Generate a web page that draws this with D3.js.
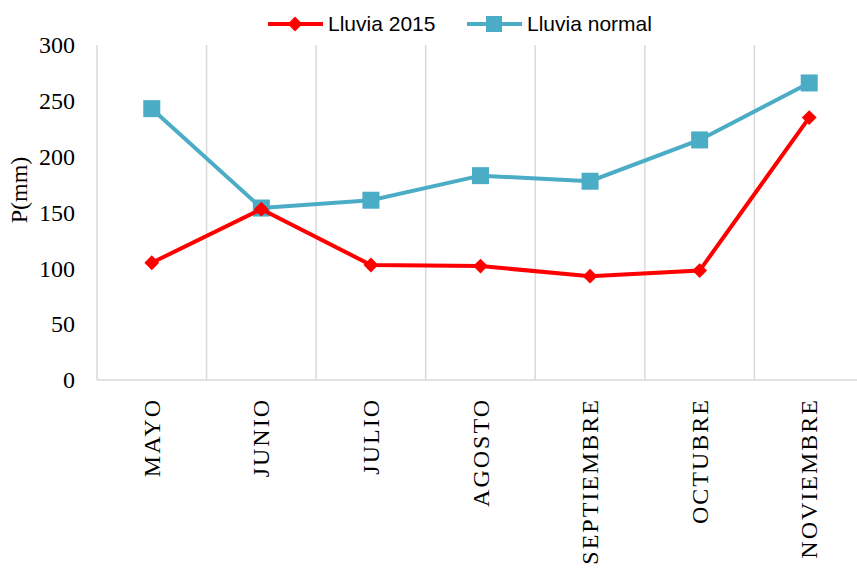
<!DOCTYPE html>
<html>
<head>
<meta charset="utf-8">
<script src="https://cdn.jsdelivr.net/npm/d3@7"></script>
<style>
body { margin: 0; background: #fff; }
svg { display: block; }
</style>
</head>
<body>
<div id="chart"></div>
<script>
// datos
var meses = ["MAYO", "JUNIO", "JULIO", "AGOSTO", "SEPTIEMBRE", "OCTUBRE", "NOVIEMBRE"];
var lluvia2015 = [105, 153, 103, 102, 93, 98, 235];
var lluviaNormal = [243, 154, 161, 183, 178, 215, 266];
var yTicks = [0, 50, 100, 150, 200, 250, 300];

var W = 857, H = 569;
var mIzq = 97, mDer = 864, mSup = 45, mInf = 380;

var svg = d3.select("#chart").append("svg")
    .attr("width", W)
    .attr("height", H);

var x = d3.scaleBand().domain(meses).range([mIzq, mDer]);
var y = d3.scaleLinear().domain([0, 300]).range([mInf, mSup]);

// lineas verticales entre categorias
var bordes = meses.map(function(m) { return x(m); });
svg.selectAll(".grid").data(bordes).enter().append("line")
    .attr("x1", function(d) { return d; })
    .attr("x2", function(d) { return d; })
    .attr("y1", y(300))
    .attr("y2", y(0))
    .attr("stroke", "#d9d9d9")
    .attr("stroke-width", 1.5);

// eje x
svg.append("line")
    .attr("x1", mIzq).attr("x2", mDer)
    .attr("y1", y(0)).attr("y2", y(0))
    .attr("stroke", "#d9d9d9")
    .attr("stroke-width", 1.5);

// eje y (solo etiquetas)
var yAxis = svg.append("g")
    .attr("transform", "translate(" + (mIzq - 22) + ",0)")
    .call(d3.axisLeft(y).tickValues(yTicks).tickSize(0).tickPadding(0));
yAxis.select(".domain").remove();
yAxis.selectAll("text")
    .attr("font-family", "Liberation Serif, serif")
    .attr("font-size", 24)
    .attr("fill", "#000")
    .attr("dy", "0.32em");

svg.append("text")
    .attr("transform", "translate(27,190) rotate(-90)")
    .attr("text-anchor", "middle")
    .attr("font-family", "Liberation Serif, serif")
    .attr("font-size", 24)
    .text("P(mm)");

// etiquetas de meses
svg.selectAll(".mes").data(meses).enter().append("text")
    .attr("transform", function(d) {
        return "translate(" + (x(d) + x.bandwidth() / 2 + 8) + ",398) rotate(-90)";
    })
    .attr("text-anchor", "end")
    .attr("font-family", "Liberation Serif, serif")
    .attr("font-size", 24)
    .attr("letter-spacing", 2)
    .text(function(d) { return d; });

var cx = function(d, i) { return x(meses[i]) + x.bandwidth() / 2; };

var linea = d3.line()
    .x(function(d, i) { return cx(d, i); })
    .y(function(d) { return y(d); });

// Lluvia normal
svg.append("path")
    .datum(lluviaNormal)
    .attr("d", linea)
    .attr("fill", "none")
    .attr("stroke", "#4BACC6")
    .attr("stroke-width", 4);
svg.selectAll(".sq").data(lluviaNormal).enter().append("rect")
    .attr("x", function(d, i) { return cx(d, i) - 8.5; })
    .attr("y", function(d) { return y(d) - 8.5; })
    .attr("width", 17)
    .attr("height", 17)
    .attr("fill", "#4BACC6");

// Lluvia 2015
svg.append("path")
    .datum(lluvia2015)
    .attr("d", linea)
    .attr("fill", "none")
    .attr("stroke", "#FF0000")
    .attr("stroke-width", 4);
var diamante = d3.symbol().type(d3.symbolSquare).size(110);
svg.selectAll(".dm").data(lluvia2015).enter().append("path")
    .attr("d", diamante)
    .attr("transform", function(d, i) {
        return "translate(" + cx(d, i) + "," + y(d) + ") rotate(45)";
    })
    .attr("fill", "#FF0000");

// leyenda
var ley = svg.append("g");
ley.append("line").attr("x1", 268).attr("x2", 323).attr("y1", 24).attr("y2", 24)
    .attr("stroke", "#FF0000").attr("stroke-width", 4);
ley.append("path").attr("d", diamante)
    .attr("transform", "translate(295,24) rotate(45)")
    .attr("fill", "#FF0000");
ley.append("text").attr("x", 328).attr("y", 24).attr("dy", "0.35em")
    .attr("font-family", "Liberation Sans, Arial, sans-serif")
    .attr("font-size", 21)
    .text("Lluvia 2015");

ley.append("line").attr("x1", 467).attr("x2", 522).attr("y1", 24).attr("y2", 24)
    .attr("stroke", "#4BACC6").attr("stroke-width", 4);
ley.append("rect").attr("x", 486).attr("y", 16).attr("width", 16).attr("height", 16)
    .attr("fill", "#4BACC6");
ley.append("text").attr("x", 527).attr("y", 24).attr("dy", "0.35em")
    .attr("font-family", "Liberation Sans, Arial, sans-serif")
    .attr("font-size", 21)
    .text("Lluvia normal");
</script>
</body>
</html>
